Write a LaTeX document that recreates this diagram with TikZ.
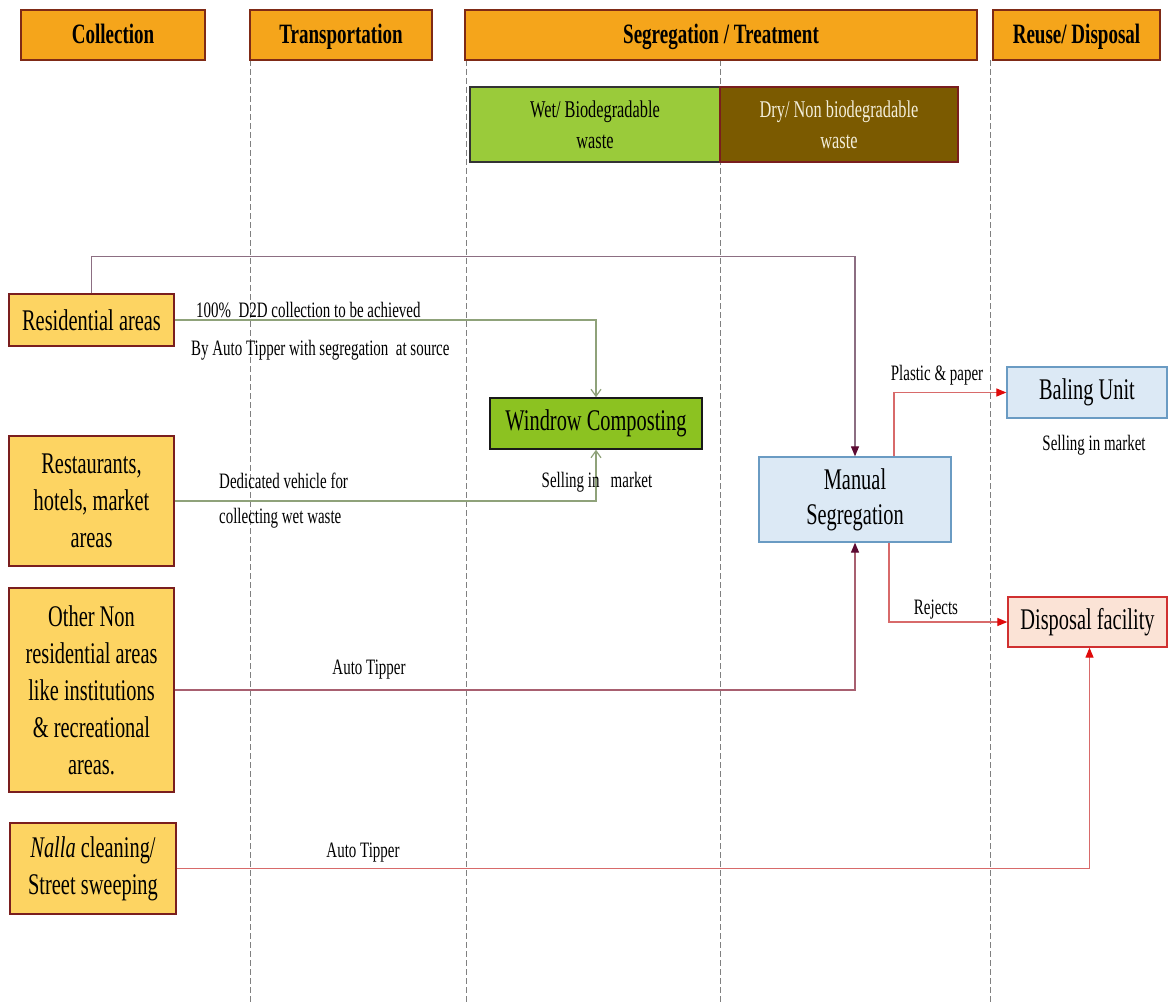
\documentclass[tikz,border=0pt]{standalone}
\usepackage{fontspec}
\setmainfont{Liberation Serif}[FakeStretch=0.68]
\usetikzlibrary{arrows.meta}
\definecolor{hdrfill}{HTML}{F5A51B}
\definecolor{hdrborder}{HTML}{7F2A16}
\definecolor{srcfill}{HTML}{FDD462}
\definecolor{srcborder}{HTML}{7A1E1E}
\definecolor{wetfill}{HTML}{9ACB3A}
\definecolor{dryfill}{HTML}{7B5A00}
\definecolor{drytext}{HTML}{F3EEDA}
\definecolor{windfill}{HTML}{8CC221}
\definecolor{bluefill}{HTML}{DCE9F5}
\definecolor{blueborder}{HTML}{6A9BC3}
\definecolor{dispfill}{HTML}{FBE3D6}
\definecolor{dispborder}{HTML}{D03030}
\definecolor{purpleline}{HTML}{8C6E82}
\definecolor{maroontip}{HTML}{5C0A32}
\definecolor{greenline}{HTML}{8FA27A}
\definecolor{pinkline}{HTML}{A86070}
\definecolor{redline}{HTML}{D86A6A}
\definecolor{redtip}{HTML}{E00A0A}
\definecolor{dashgray}{HTML}{808080}
\tikzset{
  hdr/.style={draw=hdrborder, line width=1.5pt, fill=hdrfill, minimum height=50pt, inner sep=0pt, text height=21pt, text depth=3pt, font=\fontsize{28}{30}\selectfont\bfseries},
  srcbox/.style={draw=srcborder, line width=1.5pt, fill=srcfill, inner sep=0pt, align=center, font=\fontsize{30}{37}\selectfont},
  typebox/.style={line width=1.5pt, inner sep=0pt, align=center, minimum height=75pt, font=\fontsize{24}{31}\selectfont},
  procbox/.style={draw=blueborder, line width=1.3pt, fill=bluefill, inner sep=0pt, align=center, font=\fontsize{30}{35}\selectfont},
  lbl/.style={inner sep=0pt, font=\fontsize{22}{26}\selectfont},
  lane/.style={draw=dashgray, line width=0.9pt, dash pattern=on 6pt off 3pt},
  conn/.style={line width=1.2pt},
  maroonarrow/.style={-{Triangle[length=10pt,width=8pt,color=maroontip]}},
  redarrow/.style={-{Triangle[length=10pt,width=8pt,color=redtip]}},
  openarrow/.style={-{Straight Barb[length=7pt,width=10pt]}},
}
\begin{document}
\begin{tikzpicture}[x=1pt,y=-1pt]
\useasboundingbox (0,0) rectangle (1169,1003);
\fill[white] (0,0) rectangle (1169,1003);

% lane separators
\coordinate (l1t) at (250,60);  \coordinate (l1b) at (250,1003);
\coordinate (l2t) at (466,60);  \coordinate (l2b) at (466,1003);
\coordinate (l3t) at (720,60);  \coordinate (l3b) at (720,1003);
\coordinate (l4t) at (990,60);  \coordinate (l4b) at (990,1003);
\draw[lane] (l1t) -- (l1b);
\draw[lane] (l2t) -- (l2b);
\draw[lane] (l3t) -- (l3b);
\draw[lane] (l4t) -- (l4b);

% headers
\node[hdr, minimum width=184pt] (hColl) at (113,35) {Collection};
\node[hdr, minimum width=182pt] (hTrans) at (341,35) {Transportation};
\node[hdr, minimum width=512pt] (hSeg) at (721,35) {Segregation / Treatment};
\node[hdr, minimum width=167pt] (hReuse) at (1076.5,35) {Reuse/ Disposal};

% waste types
\node[typebox, draw=black!80, fill=wetfill, minimum width=250pt] (wet) at (595,124.5) {Wet/ Biodegradable\\waste};
\node[typebox, draw=srcborder, fill=dryfill, text=drytext, minimum width=238pt] (dry) at (839,124.5) {Dry/ Non biodegradable\\waste};

% sources
\node[srcbox, minimum width=165pt, minimum height=52pt] (res) at (91.5,320) {Residential areas};
\node[srcbox, minimum width=165pt, minimum height=130pt] (rest) at (91.5,501) {Restaurants,\\hotels, market\\areas};
\node[srcbox, minimum width=165pt, minimum height=204pt] (other) at (91.5,690) {Other Non\\residential areas\\like institutions\\\& recreational\\areas.};
\node[srcbox, minimum width=166pt, minimum height=91pt] (nalla) at (93,868.5) {\textit{Nalla} cleaning/\\Street sweeping};

% processing
\node[draw=black!90, line width=1.5pt, fill=windfill, inner sep=0pt, minimum width=212pt, minimum height=51pt, font=\fontsize{30}{35}\selectfont] (wind) at (596,423.5) {Windrow Composting};
\node[procbox, minimum width=192pt, minimum height=85pt] (manual) at (855,499.5) {Manual\\Segregation};
\node[procbox, minimum width=160pt, minimum height=51pt] (baling) at (1087,392.5) {Baling Unit};
\node[procbox, draw=dispborder, fill=dispfill, minimum width=159pt, minimum height=50pt] (disp) at (1087.5,622) {Disposal facility};

% connectors
\draw[conn, purpleline, maroonarrow] (res.north) -- ++(0,-37) -| (manual.north);
\draw[conn, greenline, openarrow] (res.east) -| (wind.north);
\draw[conn, greenline, openarrow] (rest.east) -| (wind.south);
\draw[conn, pinkline, maroonarrow] (other.east) -| (manual.south);
\draw[conn, redline, redarrow] (nalla.east) -| ([xshift=2pt]disp.south);
\draw[conn, redline, redarrow] ([xshift=39pt]manual.north) |- (baling.west);
\draw[conn, redline, redarrow] ([xshift=34pt]manual.south) |- (disp.west);

% labels
\node[lbl, anchor=west] (t1) at (196,310) {100\%\ \ D2D collection to be achieved};
\node[lbl, anchor=west] (t2) at (191,350) {By Auto Tipper with segregation\ \ at source};
\node[lbl, anchor=west] (t3) at (219,481) {Dedicated vehicle for};
\node[lbl, anchor=west] (t4) at (219,518) {collecting wet waste};
\node[lbl] (t5) at (597,482) {Selling in\ \ \ market};
\node[lbl] (t6) at (937,375) {Plastic \& paper};
\node[lbl] (t7) at (1094,445) {Selling in market};
\node[lbl] (t8) at (936,610) {Rejects};
\node[lbl] (t9) at (369,670) {Auto Tipper};
\node[lbl] (t10) at (363,853) {Auto Tipper};
\end{tikzpicture}
\end{document}
